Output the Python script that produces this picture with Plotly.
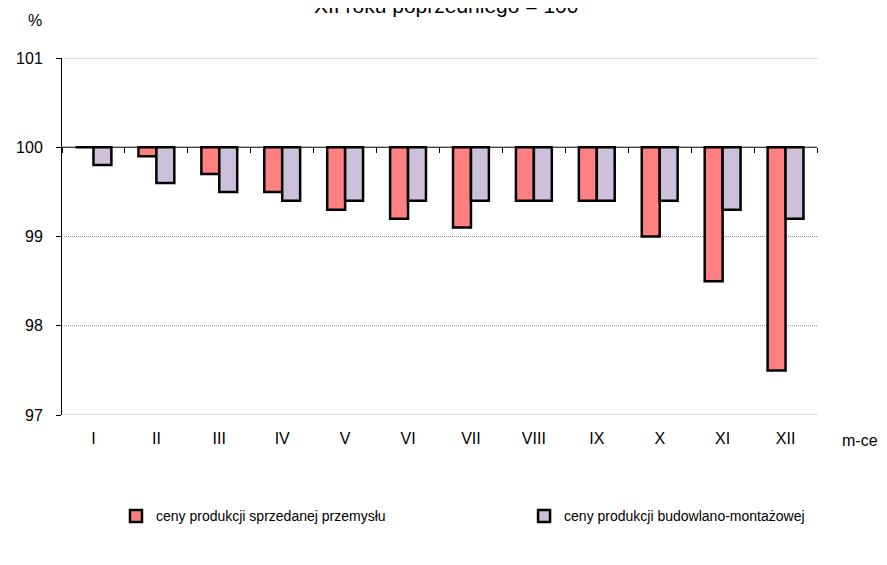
import plotly.graph_objects as go

months = ["I", "II", "III", "IV", "V", "VI", "VII", "VIII", "IX", "X", "XI", "XII"]
przemysl = [100.0, 99.9, 99.7, 99.5, 99.3, 99.2, 99.1, 99.4, 99.4, 99.0, 98.5, 97.5]
budowlano = [99.8, 99.6, 99.5, 99.4, 99.4, 99.4, 99.4, 99.4, 99.4, 99.4, 99.3, 99.2]
base_value = 100
y_ticks = [97, 98, 99, 100, 101]

FONT = "Liberation Sans, Arial, sans-serif"

fig = go.Figure()
fig.add_trace(go.Bar(
    x=months, y=[v - base_value for v in przemysl], base=base_value,
    name="ceny produkcji sprzedanej przemysłu", legend="legend",
    marker=dict(color="#FF8080", line=dict(color="black", width=2.5)),
))
fig.add_trace(go.Bar(
    x=months, y=[v - base_value for v in budowlano], base=base_value,
    name="ceny produkcji budowlano-montażowej", legend="legend2",
    marker=dict(color="#CCC0DA", line=dict(color="black", width=2.5)),
))
fig.add_trace(go.Scatter(x=[-0.5, 11.5], y=[base_value, base_value], xaxis="x2",
                         mode="lines", line=dict(color="black", width=1),
                         showlegend=False, hoverinfo="skip"))

y_min, y_max = 97, 101
shapes = [dict(type="line", xref="paper", x0=0, x1=1, yref="y", y0=t, y1=t,
               line=dict(color="#8a8a8a", width=1, dash="1px,1px"), layer="below")
          for t in y_ticks if t != base_value]

W, H = 871, 549
L, T, PW, PH = 54, 50, 755, 357
fig.update_layout(
    width=W, height=H,
    margin=dict(l=L, r=W - L - PW, t=T, b=H - T - PH, autoexpand=False),
    paper_bgcolor="white", plot_bgcolor="white",
    font=dict(family=FONT, size=16, color="black"),
    barmode="group", bargap=0.43, bargroupgap=0,
    xaxis=dict(type="category", range=[-0.5, 11.5], showline=False, ticks="",
               showgrid=False, tickfont=dict(size=16), ticklabelstandoff=12,
               automargin=False),
    xaxis2=dict(overlaying="x", anchor="free",
                position=(base_value - y_min) / (y_max - y_min),
                range=[-0.5, 11.5], showline=False, showgrid=False,
                tickvals=[i - 0.5 for i in range(13)], ticks="outside",
                ticklen=5, tickcolor="black", showticklabels=False,
                zeroline=False, automargin=False),
    yaxis=dict(range=[y_min, y_max], tickvals=y_ticks, showline=True,
               linecolor="black", linewidth=1, ticks="outside", ticklen=5,
               tickcolor="black", showgrid=False, zeroline=False,
               ticklabelstandoff=10,
               tickfont=dict(size=16), automargin=False),
    legend=dict(orientation="h", x=0.0715, y=-0.239, xanchor="left",
                yanchor="top", font=dict(size=14)),
    legend2=dict(orientation="h", x=0.612, y=-0.239, xanchor="left",
                 yanchor="top", font=dict(size=14)),
    showlegend=True,
    shapes=shapes,
    annotations=[
        dict(text="XII roku poprzedniego = 100", xref="paper", yref="paper",
             x=0.509, y=1, yshift=53, showarrow=False, font=dict(size=21),
             yanchor="middle", xanchor="center"),
        dict(text="%", xref="paper", yref="paper", x=0, y=1, xshift=-27,
             yshift=38, showarrow=False, font=dict(size=16),
             xanchor="center", yanchor="middle"),
        dict(text="m-ce", xref="paper", yref="paper", x=1, y=0, xshift=43,
             yshift=-25, showarrow=False, font=dict(size=16),
             xanchor="center", yanchor="middle"),
    ],
)
fig.write_html("out.html")
